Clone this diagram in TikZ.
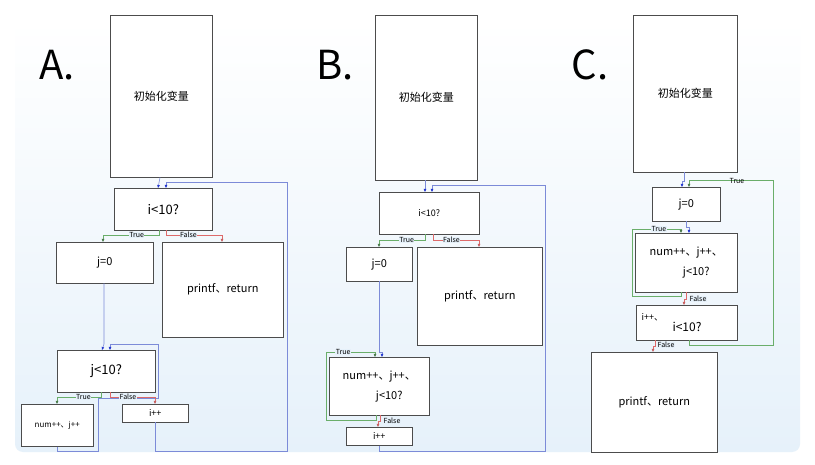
\documentclass[tikz,border=0pt]{standalone}
\usepackage{fontspec}
\setmainfont{Noto Sans CJK SC}
\usetikzlibrary{arrows.meta,shadows}
\definecolor{lb}{HTML}{7C8BD8}
\definecolor{ab}{HTML}{2236D0}
\definecolor{lg}{HTML}{6AAE6A}
\definecolor{lr}{HTML}{DD6A6A}
\definecolor{bg}{HTML}{E6F1FA}
\begin{document}
\begin{tikzpicture}[x=1pt,y=-1pt,
  box/.style={draw=black!70,line width=0.5pt,fill=white,drop shadow={shadow xshift=1.2pt,shadow yshift=-1.2pt,opacity=0.35}},
  bl/.style={draw=lb,line width=0.6pt},
  gl/.style={draw=lg,line width=0.6pt},
  rl/.style={draw=lr,line width=0.6pt},
  ba/.style={bl,-{Triangle[length=3pt,width=2.5pt,color=ab]}},
  ga/.style={gl,-{Triangle[length=3pt,width=2.5pt,color=lg!70!black]}},
  ra/.style={rl,-{Triangle[length=3pt,width=2.5pt,color=lr!90!black]}},
  lab/.style={font=\fontsize{7}{8}\selectfont,inner sep=0.5pt,fill=bg},
  big/.style={font=\fontsize{40}{44}\selectfont}]
\useasboundingbox (0,0) rectangle (815,465);
\fill[white] (0,0) rectangle (815,465);
\shade[top color=white,bottom color=bg,rounded corners=8pt] (15,20) rectangle (800,452);
\node[big] (LA) at (57,65) {A.};
\node[big] (LB) at (335,65) {B.};
\node[big] (LC) at (590,65) {C.};
% ---------- A
\def\bx#1#2#3#4#5#6#7{\node[box,minimum width={#4-#2},minimum height={#5-#3},anchor=north west,inner sep=0pt,font=\fontsize{#7}{#7}\selectfont] (#1) at (#2,#3) {#6};}
\bx{ai}{110}{15}{212}{177}{初始化变量}{11}
\bx{ac}{114}{188}{212}{230}{i<10?}{13}
\bx{aj}{56}{242}{153}{283}{j=0}{11}
\bx{ap}{162}{242}{283}{337}{printf、return}{11}
\bx{ak}{57}{350}{155}{392}{j<10?}{13}
\bx{an}{21}{404}{93}{446}{num++、j++}{8}
\bx{aa}{122}{404}{188}{422}{i++}{9}
\draw[ba] (ai.south -| 160,0) -- (ac.north -| 158,0);
\draw[ba] (aa.south -| 155,0) -- (155,451) -- (287,451) -- (287,182) -- (166,182) -- (ac.north -| 166,0);
\draw[ga] (ac.south -| 159,0) -- (159,235) -- node[lab,pos=0.4]{True} (103,235) -- (aj.north -| 103,0);
\draw[ra] (ac.south -| 166,0) -- (166,235) -- node[lab,pos=0.4]{False} (222,235) -- (ap.north -| 222,0);
\draw[ba] (aj.south -| 104,0) -- (104,344) -- (ak.north -| 102,0);
\draw[ba] (an.south -| 57,0) -- (57,451) -- (98,451) -- (98,398) -- (158,398) -- (158,344) -- (110,344) -- (ak.north -| 110,0);
\draw[ga] (ak.south -| 101,0) -- (101,397) -- node[lab,pos=0.4]{True} (57,397) -- (an.north -| 57,0);
\draw[ra] (ak.south -| 110,0) -- (110,397) -- node[lab,pos=0.4]{False} (155,397) -- (aa.north -| 155,0);
% ---------- B
\bx{bi}{375}{15}{477}{180}{初始化变量}{11}
\bx{bc}{379}{192}{479}{234}{i<10?}{9}
\bx{bj}{346}{247}{412}{281}{j=0}{11}
\bx{bp}{417}{247}{542}{345}{printf、return}{11}
\node[box,minimum width=100,minimum height=58,anchor=north west,inner sep=0pt,align=center,font=\fontsize{11}{20}\selectfont] (bn) at (329,357) {num++、j++、\\\hspace*{20pt}j<10?};
\bx{ba}{346}{427}{412}{445}{i++}{9}
\draw[ba] (bi.south -| 425,0) -- (bc.north -| 425,0);
\draw[ba] (ba.south -| 379,0) -- (379,451) -- (545,451) -- (545,185) -- (432,185) -- (bc.north -| 432,0);
\draw[ga] (bc.south -| 425,0) -- (425,240) -- node[lab,pos=0.4]{True} (379,240) -- (bj.north -| 379,0);
\draw[ra] (bc.south -| 433,0) -- (433,240) -- node[lab,pos=0.4]{False} (479,240) -- (bp.north -| 479,0);
\draw[ba] (bj.south -| 379,0) -- (379,352) -- (382,352) -- (bn.north -| 382,0);
\draw[ga] (bn.south -| 376,0) -- (376,420) -- (326,420) -- (326,352) -- node[lab,pos=0.35]{True} (375,352) -- (bn.north -| 375,0);
\draw[ra] (bn.south -| 380,0) -- (380,421) -- (378,421) -- (ba.north -| 378,0);
\node[lab,anchor=west] (bf) at (383,421) {False};
% ---------- C
\bx{ci}{633}{15}{737}{172}{初始化变量}{11}
\bx{cj}{652}{187}{720}{221}{j=0}{11}
\node[box,minimum width=102,minimum height=59,anchor=north west,inner sep=0pt,align=center,font=\fontsize{11}{20}\selectfont] (cn) at (635,233) {num++、j++、\\\hspace*{20pt}j<10?};
\node[box,minimum width=101,minimum height=35,anchor=north west,inner sep=0pt] (ca) at (636,305) {};
\node[font=\fontsize{9}{9}\selectfont,anchor=west] (cat) at (638,317) {i++、};
\node[font=\fontsize{12}{12}\selectfont,anchor=west] (cbt) at (669,327) {i<10?};
\bx{cp}{591}{352}{717}{452}{printf、return}{11}
\draw[ba] (ci.south -| 684,0) -- (684,181) -- (682,181) -- (cj.north -| 682,0);
\draw[ga] (ca.south -| 689,0) -- (689,345) -- (773,345) -- (773,180) -- (689,180) -- (cj.north -| 689,0);
\node[lab,fill=none] (ct) at (737,181) {True};
\draw[ba] (cj.south -| 686,0) -- (686,227) -- (689,227) -- (cn.north -| 689,0);
\draw[ga] (cn.south -| 681,0) -- (681,296) -- (632,296) -- (632,229) -- node[lab,pos=0.55]{True} (681,229) -- (cn.north -| 681,0);
\draw[ra] (cn.south -| 686,0) -- (686,299) -- (684,299) -- (ca.north -| 684,0);
\node[lab,anchor=west] (cf) at (689,299) {False};
\draw[ra] (ca.south -| 655,0) -- (655,346) -- (653,346) -- (cp.north -| 653,0);
\node[lab,anchor=west] (cf2) at (657,345) {False};
\end{tikzpicture}
\end{document}
